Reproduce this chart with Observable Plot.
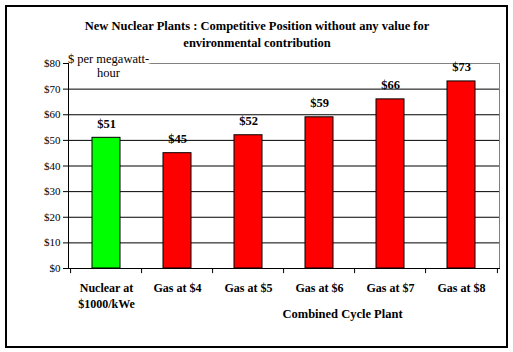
<!DOCTYPE html>
<html>
<head>
<meta charset="utf-8">
<script src="https://cdn.jsdelivr.net/npm/d3@7"></script>
<script src="https://cdn.jsdelivr.net/npm/@observablehq/plot@0.6"></script>
<style>
  html, body { margin: 0; padding: 0; background: #fff; }
  #wrap { position: relative; width: 513px; height: 352px; }
  #border { position: absolute; left: 5px; top: 5px; width: 499px; height: 339px; border: 2px solid #000; pointer-events: none; }
  #wrap svg, #wrap svg text { font-family: "Liberation Serif", "Times New Roman", serif !important; }
</style>
</head>
<body>
<div id="wrap"><div id="border"></div></div>
<script>
const categories = ["Nuclear at\n$1000/kWe", "Gas at $4", "Gas at $5", "Gas at $6", "Gas at $7", "Gas at $8"];
const values = [51, 45, 52, 59, 66, 73];
const colors = ["#00ff00", "#ff0000", "#ff0000", "#ff0000", "#ff0000", "#ff0000"];
const yTicks = [0, 10, 20, 30, 40, 50, 60, 70, 80];
const titleLines = "New Nuclear Plants : Competitive Position without any value for\nenvironmental contribution";
const yLabel = "$ per megawatt-\nhour";
const xGroupLabel = "Combined Cycle Plant";

const data = categories.map((c, i) => ({category: c, value: values[i], color: colors[i]}));

const W = 513, H = 352, ML = 68, MR = 14, MT = 63, MB = 84;
const step = (W - ML - MR) / categories.length;
const frameCenter = ML + (W - ML - MR) / 2;

const font = "Liberation Serif, Times New Roman, serif";

const chart = Plot.plot({
  width: W,
  height: H,
  marginLeft: ML,
  marginRight: MR,
  marginTop: MT,
  marginBottom: MB,
  style: {fontFamily: font, fontSize: "11px", color: "#000", background: "transparent"},
  x: {domain: categories, paddingInner: 0.6, paddingOuter: 0.3},
  y: {domain: [0, 80]},
  marks: [
    Plot.frame({stroke: "#808080"}),
    Plot.ruleY(yTicks.filter(d => d > 0 && d < 80), {stroke: "#000", strokeWidth: 1}),
    Plot.barY(data, {x: "category", y: "value", fill: "color", stroke: "#000", strokeWidth: 1}),
    Plot.text([yLabel], {frameAnchor: "top-left", textAnchor: "middle", dx: 40, dy: -11, fontSize: 12.5, fontFamily: font, lineHeight: 1.15, fill: "#000", stroke: "#fff", strokeWidth: 7, paintOrder: "stroke"}),
    Plot.frame({anchor: "left", stroke: "#000"}),
    Plot.frame({anchor: "bottom", stroke: "#000"}),
    Plot.axisY({ticks: yTicks, tickSize: 5, tickPadding: 3, tickFormat: d => "$" + d, fontSize: 11, fontFamily: font, label: null}),
    Plot.axisX({tickSize: 0, tickPadding: 12, fontSize: 12, fontWeight: "bold", fontFamily: font, lineHeight: 1.35, label: null}),
    Plot.ruleX(categories, {x: d => d, y1: 0, y2: -2, dx: -step / 2, stroke: "#000"}),
    Plot.ruleX([categories[categories.length - 1]], {x: d => d, y1: 0, y2: -2, dx: step / 2, stroke: "#000"}),
    Plot.text(data, {x: "category", y: "value", text: d => "$" + d.value, dy: -14, fontSize: 12.5, fontWeight: "bold", fontFamily: font}),
    Plot.text([titleLines], {frameAnchor: "top", dx: (W / 2) - frameCenter, dy: -46, fontSize: 12.5, fontWeight: "bold", fontFamily: font, lineHeight: 1.38}),
    Plot.text([xGroupLabel], {frameAnchor: "bottom", dx: 342 - frameCenter, dy: 49, fontSize: 12.5, fontWeight: "bold", fontFamily: font})
  ]
});
document.getElementById("wrap").prepend(chart);
chart.style.position = "absolute";
chart.style.left = "0";
chart.style.top = "0";
</script>
</body>
</html>
